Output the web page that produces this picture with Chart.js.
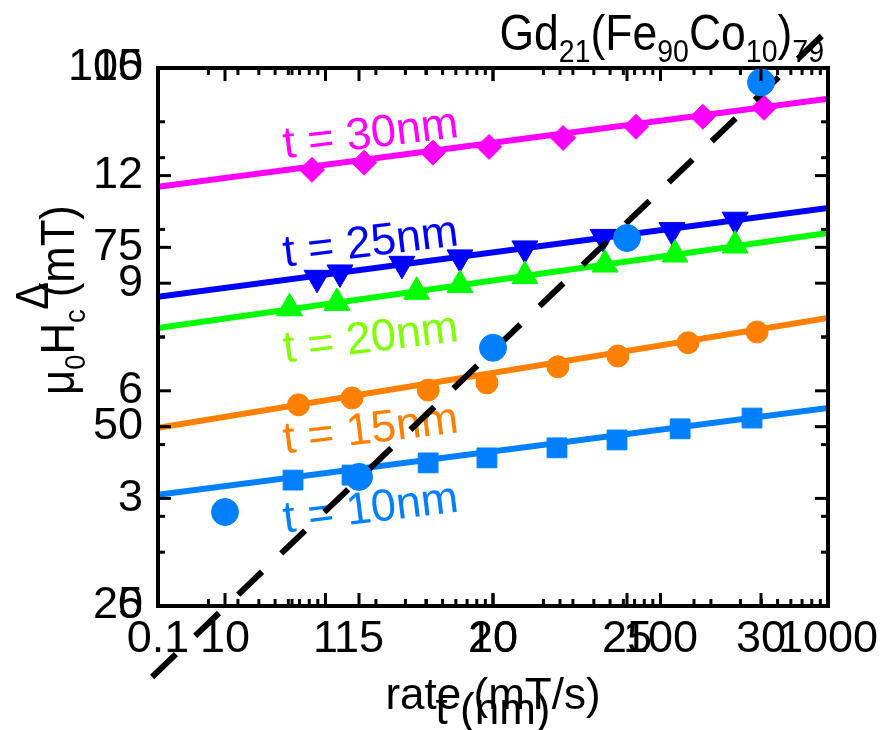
<!DOCTYPE html>
<html>
<head>
<meta charset="utf-8">
<script src="https://cdn.jsdelivr.net/npm/chart.js@4.4.1/dist/chart.umd.min.js"></script>
<style>
  html, body { margin: 0; padding: 0; background: #fff; overflow: hidden; }
  #wrap { position: relative; width: 890px; height: 730px; }
  #wrap canvas { position: absolute; left: 0; top: 0; }
  #thickChart { pointer-events: none; }
</style>
</head>
<body>
<div id="wrap">
  <canvas id="rateChart" width="890" height="730"></canvas>
  <canvas id="thickChart" width="890" height="730"></canvas>
</div>
<script>
// --- coercivity vs field sweep rate, one pair of arrays per thickness ---
const rate10 = [0.64, 1.44, 4.1, 9.2, 24.1, 55, 131, 352];
const hc10   = [3.51, 3.65, 3.99, 4.13, 4.41, 4.63, 4.94, 5.24];
const rate15 = [0.69, 1.44, 4.1, 9.2, 24.4, 55.7, 146, 377];
const hc15   = [5.61, 5.80, 6.02, 6.22, 6.67, 6.97, 7.34, 7.64];
const rate20 = [0.61, 1.17, 3.5, 6.35, 15.5, 46.6, 122, 279];
const hc20   = [8.30, 8.45, 8.76, 8.95, 9.20, 9.52, 9.80, 10.05];
const rate25 = [0.89, 1.22, 2.86, 6.35, 15.5, 45.4, 117, 279];
const hc25   = [9.15, 9.30, 9.54, 9.72, 9.97, 10.29, 10.48, 10.77];
const rate30 = [0.83, 1.70, 4.38, 9.47, 26.2, 71.4, 179, 415];
const hc30   = [12.16, 12.36, 12.64, 12.80, 13.05, 13.36, 13.64, 13.89];

// straight fits (in log rate), end to end
const fitRate = [0.1, 1000];
const fit10 = [3.10, 5.52];
const fit15 = [4.97, 8.03];
const fit20 = [7.75, 10.40];
const fit25 = [8.62, 11.10];
const fit30 = [11.69, 14.14];

// --- slope of Hc vs thickness ---
const thickness = [10, 15, 20, 25, 30];
const deltaHc   = [38.1, 43.0, 61.0, 76.3, 98.0];
const fitT      = [7.28, 32.5];
const fitDelta  = [15.1, 105.3];

// tick labels
const rateTicks  = [0.1, 1, 10, 100, 1000];
const hcTicks    = [0, 3, 6, 9, 12, 15];
const tTicks     = [10, 15, 20, 25, 30];
const deltaTicks = [25, 50, 75, 100];

Chart.defaults.font.family = "'Liberation Sans', Arial, sans-serif";
Chart.defaults.color = '#000';

const tickFont  = { size: 45 };
const titleFont = { size: 44 };

const pts = (xs, ys) => xs.map((x, i) => ({ x: x, y: ys[i] }));

// minor ticks: 2..9 in each decade, or halfway between majors
const logMinors = (majors) => {
  const out = [];
  for (let i = 0; i < majors.length - 1; i++)
    for (let k = 2; k < 10; k++) out.push(majors[i] * k);
  return out;
};
const halfMinors = (majors) => {
  const step = majors[1] - majors[0];
  const out = [majors[0] - step / 2];
  majors.forEach(v => out.push(v + step / 2));
  return out;
};

// text with subscripts: parts = [[text, isSub], ...]
function richText(ctx, r) {
  ctx.save();
  ctx.translate(r.px, r.py);
  ctx.rotate(r.rot);
  ctx.scale(r.squeeze || 1, 1);
  ctx.textBaseline = 'alphabetic';
  ctx.textAlign = 'left';
  const fam = Chart.defaults.font.family;
  const widths = r.parts.map(([s, sub]) => {
    ctx.font = (sub ? r.subSize : r.size) + 'px ' + fam;
    return ctx.measureText(s).width;
  });
  const total = widths.reduce((a, b) => a + b, 0);
  let cx = r.align === 'right' ? -total : r.align === 'center' ? -total / 2 : 0;
  r.parts.forEach(([s, sub], i) => {
    ctx.font = (sub ? r.subSize : r.size) + 'px ' + fam;
    ctx.fillText(s, cx, sub ? r.subShift : 0);
    cx += widths[i];
  });
  ctx.restore();
}

// inward ticks on all four sides, frame, and free text
const axisFrame = {
  id: 'axisFrame',
  afterDraw(chart, args, opts) {
    const { ctx, chartArea: a, scales } = chart;
    const sx = scales.x, sy = scales.y;
    ctx.save();
    ctx.strokeStyle = '#000';
    ctx.lineCap = 'butt';
    ctx.lineWidth = 3;
    const seg = (x1, y1, x2, y2) => { ctx.beginPath(); ctx.moveTo(x1, y1); ctx.lineTo(x2, y2); ctx.stroke(); };
    const xTicks = (vals, len) => vals.forEach(v => {
      if (v < sx.min || v > sx.max) return;
      const p = sx.getPixelForValue(v);
      seg(p, a.bottom, p, a.bottom - len);
      seg(p, a.top, p, a.top + len);
    });
    const yTicks = (vals, len) => vals.forEach(v => {
      if (v < sy.min || v > sy.max) return;
      const p = sy.getPixelForValue(v);
      seg(a.left, p, a.left + len, p);
      seg(a.right, p, a.right - len, p);
    });
    xTicks(opts.xMajor, 13); xTicks(opts.xMinor, 7);
    yTicks(opts.yMajor, 13); yTicks(opts.yMinor, 7);
    if (opts.frame) {
      ctx.lineWidth = 4;
      ctx.strokeRect(a.left, a.top, a.right - a.left, a.bottom - a.top);
    }
    (opts.notes || []).forEach(n => {
      ctx.save();
      ctx.fillStyle = n.color;
      ctx.font = n.size + 'px ' + Chart.defaults.font.family;
      ctx.textAlign = 'center';
      ctx.textBaseline = 'alphabetic';
      ctx.translate(sx.getPixelForValue(n.x), sy.getPixelForValue(n.y));
      ctx.rotate(n.rot);
      ctx.fillText(n.text, 0, 0);
      ctx.restore();
    });
    ctx.fillStyle = '#000';
    (opts.rich || []).forEach(r => richText(ctx, r));
    ctx.restore();
  }
};

const markers = (xs, ys, color, style, radius, rot) => ({
  data: pts(xs, ys), showLine: false, order: 1,
  pointStyle: style, pointRadius: radius, pointRotation: rot || 0,
  pointBackgroundColor: color, pointBorderColor: color, pointBorderWidth: 1
});
const fitLine = (ys, color) => ({
  data: pts(fitRate, ys), showLine: true, order: 2,
  borderColor: color, borderWidth: 6, pointRadius: 0
});

const noGrid = { display: false, drawTicks: false };
const labelAngle = -7 * Math.PI / 180;

new Chart(document.getElementById('rateChart'), {
  type: 'scatter',
  data: {
    datasets: [
      markers(rate10, hc10, '#0080FF', 'rect', 14),
      markers(rate15, hc15, '#FF8000', 'circle', 11),
      markers(rate20, hc20, '#00FF00', 'triangle', 15),
      markers(rate25, hc25, '#0000FF', 'triangle', 15, 180),
      markers(rate30, hc30, '#FF00FF', 'rectRot', 12.5),
      fitLine(fit10, '#0080FF'),
      fitLine(fit15, '#FF8000'),
      fitLine(fit20, '#00FF00'),
      fitLine(fit25, '#0000FF'),
      fitLine(fit30, '#FF00FF')
    ]
  },
  options: {
    responsive: false,
    animation: false,
    events: [],
    layout: { padding: { left: 0, top: 68, right: 62, bottom: 0 } },
    plugins: {
      legend: { display: false },
      tooltip: { enabled: false },
      axisFrame: {
        frame: true,
        xMajor: rateTicks, xMinor: logMinors(rateTicks),
        yMajor: hcTicks, yMinor: halfMinors(hcTicks),
        notes: [
          { text: 't = 30nm', color: '#FF00FF', x: 1.9, y: 12.78, rot: labelAngle, size: 45 },
          { text: 't = 25nm', color: '#0000FF', x: 1.9, y: 9.76, rot: labelAngle, size: 45 },
          { text: 't = 20nm', color: '#80FF00', x: 1.9, y: 7.09, rot: labelAngle, size: 45 },
          { text: 't = 15nm', color: '#FF8000', x: 1.9, y: 4.55, rot: labelAngle, size: 45 },
          { text: 't = 10nm', color: '#0080FF', x: 1.9, y: 2.34, rot: labelAngle, size: 45 }
        ],
        rich: [
          { parts: [['μ', false], ['0', true], ['H', false], ['c', true], [' (mT)', false]],
            px: 74, py: 300, align: 'center', rot: -Math.PI / 2, size: 48, subSize: 30, subShift: 11, squeeze: 0.91 },
          { parts: [['Gd', false], ['21', true], ['(Fe', false], ['90', true], ['Co', false], ['10', true], [')', false], ['79', true]],
            px: 824, py: 50, align: 'right', rot: 0, size: 50, subSize: 32, subShift: 12, squeeze: 0.89 }
        ]
      }
    },
    scales: {
      x: {
        type: 'logarithmic', position: 'bottom', min: 0.1, max: 1000,
        afterBuildTicks: s => { s.ticks = rateTicks.map(v => ({ value: v })); },
        afterFit: s => { s.height = 124; },
        grid: noGrid, border: { display: false },
        ticks: { font: tickFont, color: '#000', padding: 7, maxRotation: 0, autoSkip: false, callback: v => String(v) },
        title: { display: true, text: 'rate (mT/s)', font: titleFont, color: '#000', padding: { top: 0, bottom: 7 } }
      },
      y: {
        type: 'linear', position: 'left', min: 0, max: 15,
        afterBuildTicks: s => { s.ticks = hcTicks.map(v => ({ value: v })); },
        afterFit: s => { s.width = 158; },
        grid: noGrid, border: { display: false },
        ticks: { font: tickFont, color: '#000', padding: 15, autoSkip: false }
      }
    }
  },
  plugins: [axisFrame]
});

new Chart(document.getElementById('thickChart'), {
  type: 'scatter',
  data: {
    datasets: [
      { data: pts(thickness, deltaHc), showLine: false, order: 1, clip: false,
        pointStyle: 'circle', pointRadius: 13.5,
        pointBackgroundColor: '#0080FF', pointBorderColor: '#0080FF', pointBorderWidth: 1 },
      { data: pts(fitT, fitDelta), showLine: true, order: 2, clip: false,
        borderColor: '#000', borderWidth: 6, borderDash: [33, 26.6], pointRadius: 0 }
    ]
  },
  options: {
    responsive: false,
    animation: false,
    events: [],
    layout: { padding: { left: 0, top: 68, right: 62, bottom: 0 } },
    plugins: {
      legend: { display: false },
      tooltip: { enabled: false },
      axisFrame: {
        frame: false,
        xMajor: tTicks, xMinor: halfMinors(tTicks),
        yMajor: deltaTicks, yMinor: halfMinors(deltaTicks),
        rich: [
          { parts: [['Δ', false]], px: 48, py: 296, align: 'center', rot: -Math.PI / 2, size: 46, subSize: 30, subShift: 10, squeeze: 0.9 }
        ]
      }
    },
    scales: {
      x: {
        type: 'linear', position: 'bottom', min: 7.5, max: 32.5,
        afterBuildTicks: s => { s.ticks = tTicks.map(v => ({ value: v })); },
        afterFit: s => { s.height = 124; },
        grid: noGrid, border: { display: false },
        ticks: { font: tickFont, color: '#000', padding: 7, maxRotation: 0, autoSkip: false },
        title: { display: true, text: 't (nm)', font: titleFont, color: '#000', padding: { top: 0, bottom: -8 } }
      },
      y: {
        type: 'linear', position: 'left', min: 25, max: 100,
        afterBuildTicks: s => { s.ticks = deltaTicks.map(v => ({ value: v })); },
        afterFit: s => { s.width = 158; },
        grid: noGrid, border: { display: false },
        ticks: { font: tickFont, color: '#000', padding: 15, autoSkip: false }
      }
    }
  },
  plugins: [axisFrame]
});
</script>
</body>
</html>
